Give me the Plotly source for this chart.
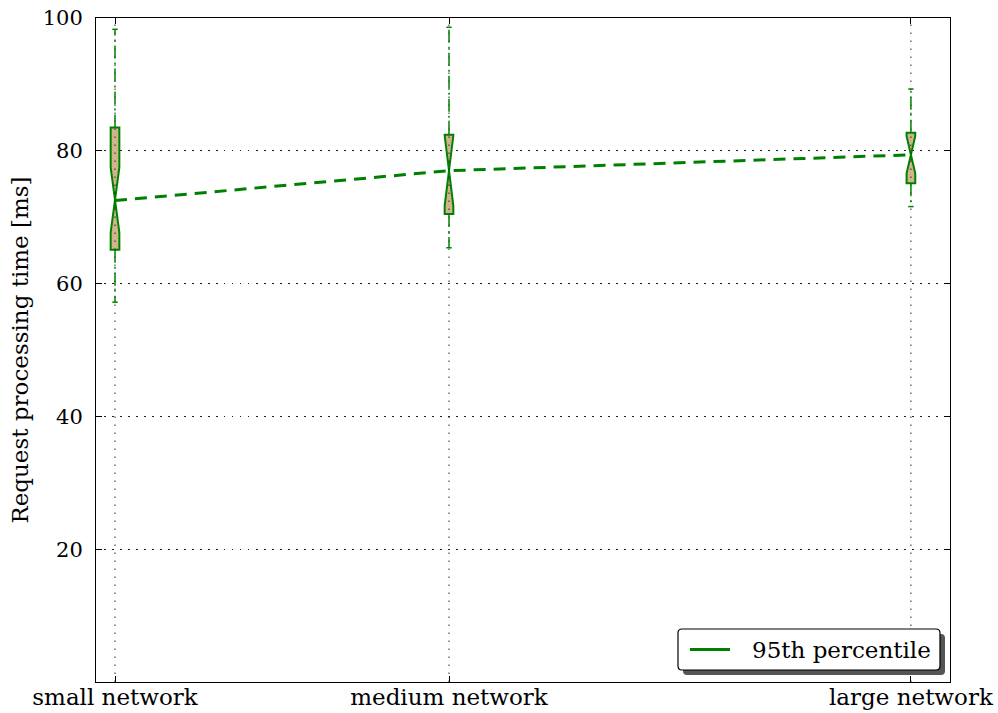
import plotly.graph_objects as go

# ---- data ----
labels = ["small network", "medium network", "large network"]
xpos = [1.0, 2.0, 3.383]
q1 = [65.1, 70.5, 75.1]
median = [72.6, 77.0, 79.4]
q3 = [83.5, 82.4, 82.7]
lowerfence = [57.2, 65.4, 71.6]
upperfence = [98.3, 98.6, 89.3]
notchspan = [4.9, 5.3, 2.8]
p95 = [72.5, 77.0, 79.4]
yticks = [20, 40, 60, 80, 100]
legend_label = "95th percentile"

GREEN = "#008000"
TAN = "#D2B48C"
FONT = "DejaVu Serif"
BOXW = 0.026
CAPW = 0.008

# plot area in pixels (for legend decoration placement)
L, R, T, B = 96, 950, 18, 682


def px(xp):
    return (xp - L) / (R - L)


def py(yp):
    return (B - yp) / (B - T)


def rounded_rect(x0, y0, x1, y1, r=4):
    # x0,y0 top-left ; x1,y1 bottom-right in pixels
    return (f"M {px(x0 + r)},{py(y0)} L {px(x1 - r)},{py(y0)} "
            f"Q {px(x1)},{py(y0)} {px(x1)},{py(y0 + r)} "
            f"L {px(x1)},{py(y1 - r)} Q {px(x1)},{py(y1)} {px(x1 - r)},{py(y1)} "
            f"L {px(x0 + r)},{py(y1)} Q {px(x0)},{py(y1)} {px(x0)},{py(y1 - r)} "
            f"L {px(x0)},{py(y0 + r)} Q {px(x0)},{py(y0)} {px(x0 + r)},{py(y0)} Z")


fig = go.Figure()

# boxes (whiskers drawn separately)
fig.add_trace(go.Box(
    x=xpos, q1=q1, median=median, q3=q3,
    lowerfence=q1, upperfence=q3,
    notched=True, notchspan=notchspan, notchwidth=0.5,
    width=BOXW, whiskerwidth=0,
    fillcolor=TAN, line=dict(color=GREEN, width=2),
    boxpoints=False, showlegend=False, hoverinfo="skip",
))

# vertical dotted grid lines above boxes
for xp in xpos:
    fig.add_trace(go.Scatter(
        x=[xp, xp], y=[0, 100], mode="lines",
        line=dict(color="#222222", width=1, dash="1.5px,6.5px"),
        showlegend=False, hoverinfo="skip",
    ))

# whiskers and caps
for xp, a, b, lo, hi in zip(xpos, q1, q3, lowerfence, upperfence):
    fig.add_trace(go.Scatter(
        x=[xp, xp, None, xp, xp], y=[b, hi, None, a, lo], mode="lines",
        line=dict(color=GREEN, width=1.5, dash="13px,4px,2px,4px"),
        showlegend=False, hoverinfo="skip",
    ))
    fig.add_trace(go.Scatter(
        x=[xp - CAPW, xp + CAPW, None, xp - CAPW, xp + CAPW],
        y=[hi, hi, None, lo, lo], mode="lines",
        line=dict(color=GREEN, width=1.5),
        showlegend=False, hoverinfo="skip",
    ))

# 95th percentile dashed line
fig.add_trace(go.Scatter(
    x=xpos, y=p95, mode="lines", name=legend_label,
    line=dict(color=GREEN, width=3, dash="12px,8px"),
    showlegend=False, hoverinfo="skip",
))

# legend (matplotlib-style box with shadow)
fig.add_shape(type="path", xref="paper", yref="paper",
              path=rounded_rect(683, 634, 945, 675),
              fillcolor="#555555", line=dict(width=0), layer="above")
fig.add_shape(type="path", xref="paper", yref="paper",
              path=rounded_rect(678, 629, 940, 670),
              fillcolor="white", line=dict(color="black", width=1.2), layer="above")
fig.add_shape(type="line", xref="paper", yref="paper",
              x0=px(690), x1=px(730), y0=py(649.5), y1=py(649.5),
              line=dict(color=GREEN, width=3), layer="above")
fig.add_annotation(xref="paper", yref="paper", x=px(750), y=py(649.5),
                   xanchor="left", yanchor="middle", showarrow=False,
                   text=legend_label, font=dict(family=FONT, size=23, color="black"))

fig.update_layout(
    width=998, height=713,
    margin=dict(l=L, r=998 - R, t=T, b=713 - B),
    plot_bgcolor="white", paper_bgcolor="white",
    font=dict(family=FONT, size=21, color="black"),
    showlegend=False,
    xaxis=dict(
        range=[0.9431, 3.5], tickvals=xpos, ticktext=labels,
        ticks="inside", ticklen=6, tickcolor="black",
        tickfont=dict(family=FONT, size=23),
        showline=True, linecolor="black", linewidth=1, mirror="ticks",
        showgrid=False, zeroline=False, ticklabelstandoff=-6, automargin=False,
    ),
    yaxis=dict(
        range=[0, 100], tickvals=yticks,
        ticks="inside", ticklen=6, tickcolor="black",
        tickfont=dict(family=FONT, size=21),
        showline=True, linecolor="black", linewidth=1, mirror="ticks",
        showgrid=True, gridcolor="#222222", gridwidth=1, griddash="1.5px,6.5px",
        zeroline=False, ticklabelstandoff=8, automargin=False,
        title=dict(text="Request processing time [ms]", standoff=7,
                   font=dict(family=FONT, size=23)),
    ),
)

fig.write_html("out.html")
